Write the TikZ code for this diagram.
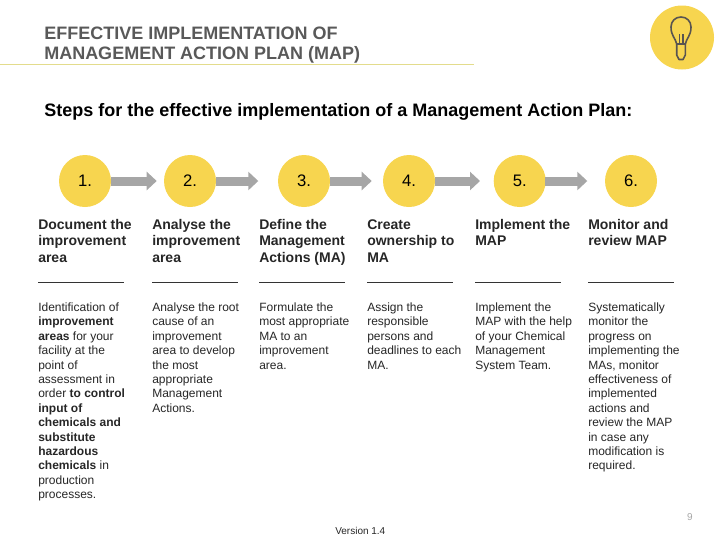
\documentclass[tikz,border=0pt]{standalone}
\usepackage{fontspec}
\setmainfont{Liberation Sans}
\usetikzlibrary{arrows.meta}
\definecolor{ylw}{HTML}{F7D54F}
\definecolor{gry}{HTML}{A6A6A6}
\definecolor{ttl}{HTML}{595959}
\definecolor{bulb}{HTML}{595450}
\definecolor{rulec}{HTML}{E3DC8C}
\definecolor{txtc}{HTML}{262626}
\tikzset{
 x=0.75pt,y=-0.75pt,
 stepcircle/.style={circle,fill=ylw,minimum size=39pt,inner sep=0pt,font=\fontsize{12.5pt}{14pt}\selectfont,text=black},
 flowarrow/.style={draw=gry,line width=6.75pt,-{Triangle[length=7.5pt,width=13.5pt]},shorten <=-0.5pt},
 headtext/.style={anchor=north west,inner sep=0pt,align=left,font=\bfseries\fontsize{10.5pt}{12.4pt}\selectfont,text=txtc},
 bodytext/.style={anchor=north west,inner sep=0pt,align=left,font=\fontsize{9pt}{10.8pt}\selectfont,text=txtc},
 sepline/.style={draw=black!80,line width=0.55pt},
}
\begin{document}
\begin{tikzpicture}
\useasboundingbox (0,0) rectangle (720,540);
\node[anchor=north west,inner sep=0pt,align=left,font=\bfseries\fontsize{13.5pt}{15pt}\selectfont,text=ttl] (title) at (44,26.5) {EFFECTIVE IMPLEMENTATION OF\\MANAGEMENT ACTION PLAN (MAP)};
\coordinate (rl) at (0,64.5); \coordinate (rr) at (474,64.5);
\draw[rulec,line width=0.7pt] (rl) -- (rr);
\node[anchor=west,inner sep=0pt,font=\bfseries\fontsize{13.5pt}{15pt}\selectfont,text=black] (sub) at (44,111.5) {Steps for the effective implementation of a Management Action Plan:};
% lamp
\node[circle,fill=ylw,minimum size=48pt,inner sep=0pt] (lamp) at (682,37.5) {};
\draw[bulb,line width=1.2pt,line join=round] (676.7,44) .. controls (675.5,38) and (671,36) .. (671,27) .. controls (671,21) and (675.5,17) .. (681,17) .. controls (686.5,17) and (691,21) .. (691,27) .. controls (691,36) and (686.5,38) .. (685.3,44);
\draw[bulb,line width=1.2pt] (679.3,44) -- (679.3,34) (682.7,44) -- (682.7,34);
\draw[bulb,line width=1.2pt,line join=round] (676.7,44) -- (685.3,44) -- (685.3,55) -- (683,59.5) -- (679,59.5) -- (676.7,55) -- cycle;
% steps
\node[stepcircle] (c1) at (85,181) {1.};
\node[stepcircle] (c2) at (190,181) {2.};
\node[stepcircle] (c3) at (304,181) {3.};
\node[stepcircle] (c4) at (409,181) {4.};
\node[stepcircle] (c5) at (519.7,181) {5.};
\node[stepcircle] (c6) at (631,181) {6.};
\coordinate (t1) at (156.7,181);
\coordinate (t2) at (258.3,181);
\coordinate (t3) at (371.7,181);
\coordinate (t4) at (480,181);
\coordinate (t5) at (587.3,181);
\draw[flowarrow] (c1.east) -- (t1);
\draw[flowarrow] (c2.east) -- (t2);
\draw[flowarrow] (c3.east) -- (t3);
\draw[flowarrow] (c4.east) -- (t4);
\draw[flowarrow] (c5.east) -- (t5);
\node[headtext] (h1) at (38,219) {Document the\\improvement\\area};
\node[headtext] (h2) at (152,219) {Analyse the\\improvement\\area};
\node[headtext] (h3) at (259,219) {Define the\\Management\\Actions (MA)};
\node[headtext] (h4) at (367,219) {Create\\ownership to\\MA};
\node[headtext] (h5) at (475,219) {Implement the\\MAP};
\node[headtext] (h6) at (588,219) {Monitor and\\review MAP};
\foreach \x in {38,152,259,367,475,588}{
 \draw[sepline] (\x,282.5) -- +(86,0);
}
\node[bodytext] (b1) at (38,302.5) {Identification of\\\textbf{improvement}\\\textbf{areas} for your\\facility at the\\point of\\assessment in\\order \textbf{to control}\\\textbf{input of}\\\textbf{chemicals and}\\\textbf{substitute}\\\textbf{hazardous}\\\textbf{chemicals} in\\production\\processes.};
\node[bodytext] (b2) at (152,302.5) {Analyse the root\\cause of an\\improvement\\area to develop\\the most\\appropriate\\Management\\Actions.};
\node[bodytext] (b3) at (259,302.5) {Formulate the\\most appropriate\\MA to an\\improvement\\area.};
\node[bodytext] (b4) at (367,302.5) {Assign the\\responsible\\persons and\\deadlines to each\\MA.};
\node[bodytext] (b5) at (475,302.5) {Implement the\\MAP with the help\\of your Chemical\\Management\\System Team.};
\node[bodytext] (b6) at (588,302.5) {Systematically\\monitor the\\progress on\\implementing the\\MAs, monitor\\effectiveness of\\implemented\\actions and\\review the MAP\\in case any\\modification is\\required.};
\node[anchor=west,inner sep=0pt,font=\fontsize{7.5pt}{8pt}\selectfont,text=txtc] (ver) at (335,530.5) {Version 1.4};
\node[anchor=east,inner sep=0pt,font=\fontsize{7.5pt}{9pt}\selectfont,text=gry] (pg) at (693,517) {9};
\end{tikzpicture}
\end{document}
